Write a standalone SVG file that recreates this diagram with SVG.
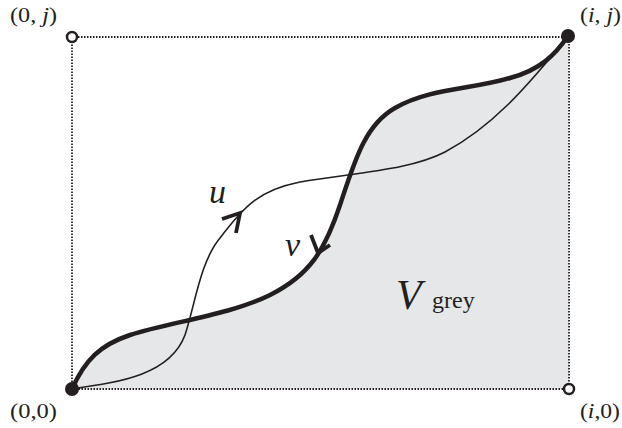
<svg xmlns="http://www.w3.org/2000/svg" width="622" height="428" viewBox="0 0 622 428">
<style>
.lbl{font-family:"Liberation Serif","Times New Roman",serif;fill:#231f20}
.it{font-style:italic}
.dot{fill:none;stroke:#231f20;stroke-width:1.8;stroke-dasharray:1.5 1.5}
.thick{fill:none;stroke:#231f20;stroke-width:4.5;stroke-linecap:round}
.thin{fill:none;stroke:#231f20;stroke-width:1.6}
.arr{fill:none;stroke:#231f20;stroke-width:3.8;stroke-linecap:butt;stroke-linejoin:miter}
</style>
<rect width="622" height="428" fill="#ffffff"/>
<g id="region">
<path d="M72,389 C85,360 100,345 130,335 C170,322 230,315 270,295 C310,275 325,250 340,205 C355,160 365,125 395,108 C430,88 470,90 510,78 C540,70 555,55 568,36 L569,389 Z" fill="#e6e7e8"/>
</g>
<g id="frame">
<path class="dot" d="M72,37 H569 V389 H72 Z"/>
</g>
<g id="connectors">
<path id="u" class="thin" d="M72,389 C120,382 170,375 185,335 C195,305 200,262 220,238 C245,205 260,190 300,182 C360,172 410,170 445,152 C490,128 525,90 568,36"/>
<path id="v" class="thick" d="M72,389 C85,360 100,345 130,335 C170,322 230,315 270,295 C310,275 325,250 340,205 C355,160 365,125 395,108 C430,88 470,90 510,78 C540,70 555,55 568,36"/>
<path class="arr" d="M222,219 L240,213 L236,233"/>
<path class="arr" d="M311,235 L318,253 L330,245"/>
</g>
<g id="n00">
<circle cx="72" cy="389" r="7" fill="#231f20"/>
<text class="lbl" x="10" y="418" font-size="22" textLength="47" lengthAdjust="spacingAndGlyphs">(0,0)</text>
</g>
<g id="nij">
<circle cx="568" cy="36" r="7" fill="#231f20"/>
<text class="lbl" x="580" y="22" font-size="22" textLength="41" lengthAdjust="spacingAndGlyphs">(<tspan class="it">i</tspan>, <tspan class="it">j</tspan>)</text>
</g>
<g id="n0j">
<circle cx="72" cy="37" r="5" fill="#ffffff" stroke="#231f20" stroke-width="2.5"/>
<text class="lbl" x="10" y="22" font-size="22" textLength="47" lengthAdjust="spacingAndGlyphs">(0, <tspan class="it">j</tspan>)</text>
</g>
<g id="ni0">
<circle cx="569" cy="389" r="5" fill="#ffffff" stroke="#231f20" stroke-width="2.5"/>
<text class="lbl" x="580" y="418" font-size="22" textLength="40" lengthAdjust="spacingAndGlyphs">(<tspan class="it">i</tspan>,0)</text>
</g>
<g id="labels">
<text class="lbl it" x="209" y="203" font-size="34">u</text>
<text class="lbl it" x="285" y="256" font-size="34">v</text>
<text class="lbl it" x="396" y="309" font-size="42">V</text>
<text class="lbl" x="432" y="308" font-size="24">grey</text>
</g>
</svg>
